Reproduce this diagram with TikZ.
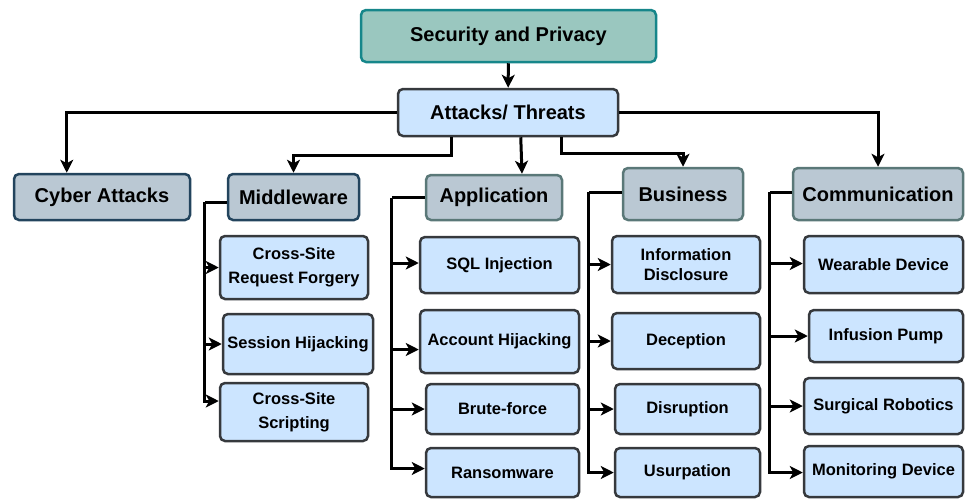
\documentclass[tikz,border=0pt]{standalone}
\usepackage{fontspec}
\setmainfont{Liberation Sans}
\usetikzlibrary{arrows.meta}
\usetikzlibrary{positioning}
\usetikzlibrary{calc}

\begin{document}
\begin{tikzpicture}[
  x=1pt,y=-1pt,
  box/.style={draw,rounded corners=5pt,line width=2.5pt,inner sep=1pt,align=center,font=\bfseries\fontsize{20}{24}\selectfont},
  top box/.style={box,fill=top fill,draw=top line},
  main box/.style={box,fill=light blue,draw=dark line},
  group box/.style={box,fill=group fill,draw=group line},
  grey group box/.style={group box,draw=grey line},
  leaf/.style={box,fill=light blue,draw=dark line,font=\bfseries\fontsize{16.5}{24}\selectfont},
  link/.style={line width=3pt,black},
  arr/.style={link,-{Stealth[length=13pt,width=13pt,inset=3.5pt]}},
]
  \definecolor{top fill}{HTML}{9AC7BF}
  \definecolor{top line}{HTML}{16868A}
  \definecolor{light blue}{HTML}{CCE5FF}
  \definecolor{dark line}{HTML}{36393D}
  \definecolor{group fill}{HTML}{BAC8D3}
  \definecolor{group line}{HTML}{23445D}
  \definecolor{grey line}{HTML}{5A7878}

  \useasboundingbox (0,0) rectangle (971,498);

  \node[top box,minimum width=295,minimum height=52] (sp) at (508.5,36) {Security and Privacy};
  \node[main box,minimum width=220,minimum height=47] (at) at (508,112.5) {Attacks/ Threats};

  \node[group box,minimum width=176,minimum height=46] (cy) at (102,197) {Cyber Attacks};
  \node[group box,minimum width=131,minimum height=46] (mw) at (293.5,197) {Middleware};
  \node[grey group box,minimum width=136,minimum height=45] (ap) at (494,197.5) {Application};
  \node[grey group box,minimum width=120,minimum height=52] (bu) at (683,194) {Business};
  \node[grey group box,minimum width=170,minimum height=52] (co) at (878,194) {Communication};

  \node[leaf,minimum width=148,minimum height=63] (csrf) at (294,267.5) {Cross-Site\\Request Forgery};
  \node[leaf,minimum width=150,minimum height=60] (sh) at (298,344) {Session Hijacking};
  \node[leaf,minimum width=148,minimum height=58] (css) at (294,412) {Cross-Site\\Scripting};

  \node[leaf,minimum width=159,minimum height=56] (sql) at (499.5,265) {SQL Injection};
  \node[leaf,minimum width=159,minimum height=63] (ah) at (499.5,341.5) {Account Hijacking};
  \node[leaf,minimum width=153,minimum height=50] (bf) at (502.5,409) {Brute-force};
  \node[leaf,minimum width=153,minimum height=49] (rw) at (502.5,472.5) {Ransomware};

  \node[leaf,minimum width=148,minimum height=57,font=\bfseries\fontsize{16.5}{20}\selectfont] (id) at (686,264.5) {Information\\Disclosure};
  \node[leaf,minimum width=148,minimum height=56] (dec) at (686,341) {Deception};
  \node[leaf,minimum width=145,minimum height=50] (dis) at (687.5,409) {Disruption};
  \node[leaf,minimum width=145,minimum height=49] (us) at (687.5,472.5) {Usurpation};

  \node[leaf,minimum width=159,minimum height=57] (wd) at (883.5,264.5) {Wearable Device};
  \node[leaf,minimum width=154,minimum height=52] (ip) at (886,336) {Infusion Pump};
  \node[leaf,minimum width=159,minimum height=56] (sr) at (883.5,406) {Surgical Robotics};
  \node[leaf,minimum width=159,minimum height=51] (md) at (883.5,471.5) {Monitoring Device};

  \draw[arr] (sp) -- (at);
  \draw[arr] (at.west) -| ([xshift=54pt]cy.north west);
  \draw[arr] ([xshift=55pt]at.south west) -- ++(0,18) -| (mw.north);
  \draw[arr] ([xshift=124pt]at.south west) -- ([xshift=28pt]ap.north);
  \draw[arr] ([xshift=165pt]at.south west) -- ++(0,16) -| (bu.north);
  \draw[arr] (at.east) -| (co.north);

  \draw[link] ([yshift=-5pt]mw.west) -- ++(-22,0) coordinate (mwt);
  \draw[arr] (mwt) |- (csrf.west);
  \draw[arr] (mwt) |- (sh.west);
  \draw[arr] (mwt) |- ([yshift=11pt]css.west);

  \draw[link] (ap.west) -- ++(-33,0) coordinate (apt);
  \draw[arr] (apt) |- ([yshift=2pt]sql.west);
  \draw[arr] (apt) |- ([yshift=-8pt]ah.west);
  \draw[arr] (apt) |- (bf.west);
  \draw[arr] (apt) |- ([yshift=4pt]rw.west);

  \draw[link] ([yshift=2pt]bu.west) -- ++(-33,0) coordinate (but);
  \draw[arr] (but) |- (id.west);
  \draw[arr] (but) |- (dec.west);
  \draw[arr] (but) |- (dis.west);
  \draw[arr] (but) |- (us.west);

  \draw[link] ([yshift=2pt]co.west) -- ++(-22,0) coordinate (cot);
  \draw[arr] (cot) |- ([yshift=1pt]wd.west);
  \draw[arr] (cot) |- (ip.west);
  \draw[arr] (cot) |- (sr.west);
  \draw[arr] (cot) |- ([yshift=-1pt]md.west);
\end{tikzpicture}
\end{document}
